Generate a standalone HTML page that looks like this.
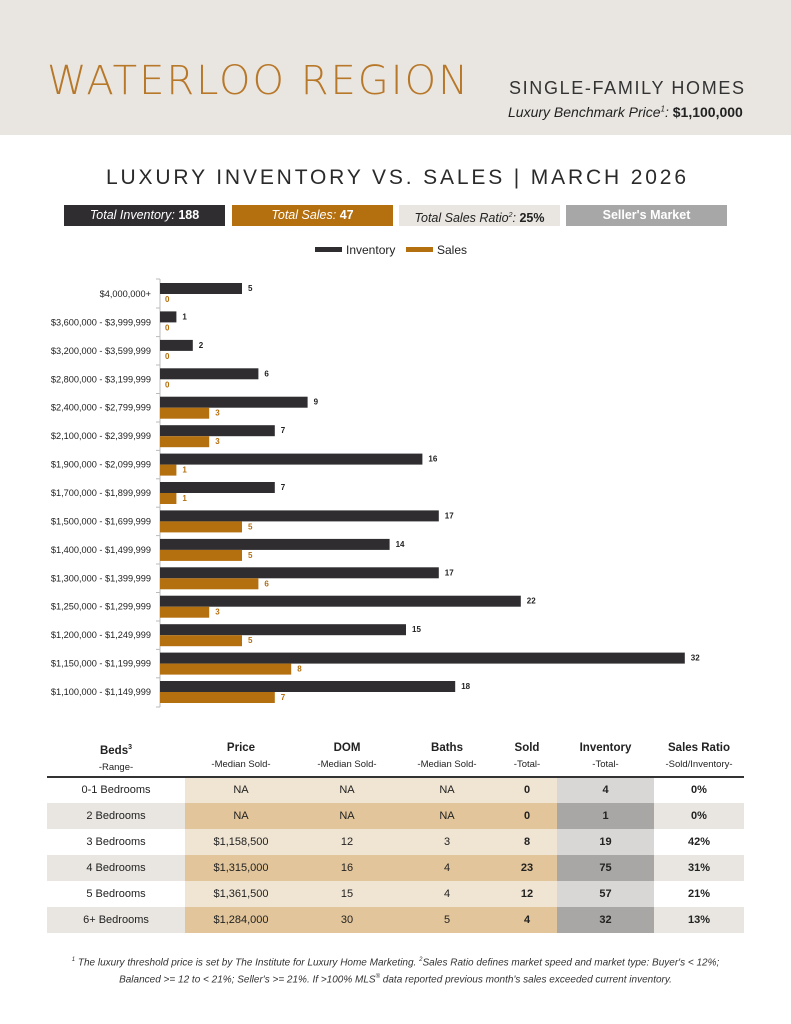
<!DOCTYPE html>
<html><head><meta charset="utf-8"><style>
*{margin:0;padding:0;box-sizing:border-box}
body{width:791px;height:1024px;background:#fff;font-family:"Liberation Sans",sans-serif;position:relative;overflow:hidden;color:#222}
.hdr{position:absolute;left:0;top:0;width:791px;height:135px;background:#e9e6e1}
.abs{position:absolute;white-space:nowrap}
.box{position:absolute;top:205px;height:21px;font-size:12.5px;line-height:21px;text-align:center}
table{position:absolute;left:47px;top:740px;width:697px;border-collapse:collapse;font-size:11px}
td{text-align:center;height:26px;padding:0}
th{font-size:11.5px;font-weight:bold;height:34px;vertical-align:top;line-height:16px}
th span{font-weight:normal;font-size:9.5px}
</style></head><body>
<div class="hdr"></div>
<svg class="abs" style="left:0;top:0" width="791" height="200" font-family="Liberation Sans,sans-serif">
<text x="47" y="94" font-size="40" fill="#b8782a" textLength="421" lengthAdjust="spacing" font-family="DejaVu Sans ExtraLight, DejaVu Sans, sans-serif" font-weight="200">WATERLOO REGION</text>
<text x="509" y="94" font-size="18" fill="#333" textLength="235" lengthAdjust="spacing">SINGLE-FAMILY HOMES</text>
<text x="106" y="184" font-size="21" fill="#2a2a2a" textLength="580" lengthAdjust="spacing">LUXURY INVENTORY VS. SALES | MARCH 2026</text>
</svg>
<div class="abs" style="left:508px;top:104px;font-size:14px;color:#222"><i>Luxury Benchmark Price<sup style="font-size:8px">1</sup>:</i> <b>$1,100,000</b></div>
<div class="box" style="left:64px;width:161px;background:#2f2d30;color:#fff"><i>Total Inventory:</i> <b>188</b></div>
<div class="box" style="left:232px;width:161px;background:#b46f0e;color:#fff"><i>Total Sales:</i> <b>47</b></div>
<div class="box" style="left:399px;width:161px;background:#e9e6e1;color:#222"><i>Total Sales Ratio<sup style="font-size:7px">2</sup>:</i> <b>25%</b></div>
<div class="box" style="left:566px;width:161px;background:#a8a7a8;color:#fff"><b>Seller's Market</b></div>
<svg class="abs" style="left:0;top:0" width="791" height="730" font-family="Liberation Sans,sans-serif">
<rect x="315" y="247" width="27" height="5" fill="#2f2d30"/><text x="346" y="254" font-size="12" fill="#222">Inventory</text>
<rect x="406" y="247" width="27" height="5" fill="#b46f0e"/><text x="437" y="254" font-size="12" fill="#222">Sales</text>
<line x1="160" y1="279" x2="160" y2="707" stroke="#bbb"/>
<g stroke="#bbb"><line x1="156" y1="279" x2="160" y2="279"/><line x1="156" y1="308" x2="160" y2="308"/><line x1="156" y1="336.6" x2="160" y2="336.6"/><line x1="156" y1="365" x2="160" y2="365"/><line x1="156" y1="393.5" x2="160" y2="393.5"/><line x1="156" y1="422" x2="160" y2="422"/><line x1="156" y1="450.4" x2="160" y2="450.4"/><line x1="156" y1="478.8" x2="160" y2="478.8"/><line x1="156" y1="507.2" x2="160" y2="507.2"/><line x1="156" y1="535.6" x2="160" y2="535.6"/><line x1="156" y1="564" x2="160" y2="564"/><line x1="156" y1="592.5" x2="160" y2="592.5"/><line x1="156" y1="621" x2="160" y2="621"/><line x1="156" y1="649.4" x2="160" y2="649.4"/><line x1="156" y1="677.8" x2="160" y2="677.8"/><line x1="156" y1="707" x2="160" y2="707"/></g>
<g font-size="9.2" fill="#222" text-anchor="end">
<text x="151" y="297">$4,000,000+</text>
<text x="151" y="325.4">$3,600,000 - $3,999,999</text>
<text x="151" y="353.9">$3,200,000 - $3,599,999</text>
<text x="151" y="382.3">$2,800,000 - $3,199,999</text>
<text x="151" y="410.7">$2,400,000 - $2,799,999</text>
<text x="151" y="439.2">$2,100,000 - $2,399,999</text>
<text x="151" y="467.6">$1,900,000 - $2,099,999</text>
<text x="151" y="496">$1,700,000 - $1,899,999</text>
<text x="151" y="524.4">$1,500,000 - $1,699,999</text>
<text x="151" y="552.9">$1,400,000 - $1,499,999</text>
<text x="151" y="581.3">$1,300,000 - $1,399,999</text>
<text x="151" y="609.7">$1,250,000 - $1,299,999</text>
<text x="151" y="638.2">$1,200,000 - $1,249,999</text>
<text x="151" y="666.6">$1,150,000 - $1,199,999</text>
<text x="151" y="695">$1,100,000 - $1,149,999</text>
</g>
<g fill="#2f2d30">
<rect x="160" y="283" width="82" height="11"/>
<rect x="160" y="311.4" width="16.4" height="11"/>
<rect x="160" y="339.9" width="32.8" height="11"/>
<rect x="160" y="368.3" width="98.4" height="11"/>
<rect x="160" y="396.7" width="147.6" height="11"/>
<rect x="160" y="425.2" width="114.8" height="11"/>
<rect x="160" y="453.6" width="262.4" height="11"/>
<rect x="160" y="482" width="114.8" height="11"/>
<rect x="160" y="510.4" width="278.8" height="11"/>
<rect x="160" y="538.9" width="229.6" height="11"/>
<rect x="160" y="567.3" width="278.8" height="11"/>
<rect x="160" y="595.7" width="360.8" height="11"/>
<rect x="160" y="624.2" width="246" height="11"/>
<rect x="160" y="652.6" width="524.8" height="11"/>
<rect x="160" y="681" width="295.2" height="11"/>
</g>
<g fill="#b46f0e">
<rect x="160" y="407.7" width="49.2" height="11"/>
<rect x="160" y="436.2" width="49.2" height="11"/>
<rect x="160" y="464.6" width="16.4" height="11"/>
<rect x="160" y="493" width="16.4" height="11"/>
<rect x="160" y="521.4" width="82" height="11"/>
<rect x="160" y="549.9" width="82" height="11"/>
<rect x="160" y="578.3" width="98.4" height="11"/>
<rect x="160" y="606.7" width="49.2" height="11"/>
<rect x="160" y="635.2" width="82" height="11"/>
<rect x="160" y="663.6" width="131.2" height="11"/>
<rect x="160" y="692" width="114.8" height="11"/>
</g>
<g font-size="8" font-weight="bold" fill="#222">
<text x="248" y="291">5</text><text x="182.4" y="319.4">1</text><text x="198.8" y="347.9">2</text><text x="264.4" y="376.3">6</text><text x="313.6" y="404.7">9</text><text x="280.8" y="433.2">7</text><text x="428.4" y="461.6">16</text><text x="280.8" y="490">7</text><text x="444.8" y="518.4">17</text><text x="395.6" y="546.9">14</text><text x="444.8" y="575.3">17</text><text x="526.8" y="603.7">22</text><text x="412" y="632.2">15</text><text x="690.8" y="660.6">32</text><text x="461.2" y="689">18</text>
</g>
<g font-size="8" font-weight="bold" fill="#b46f0e">
<text x="165" y="302">0</text><text x="165" y="330.4">0</text><text x="165" y="358.9">0</text><text x="165" y="387.3">0</text><text x="215.2" y="415.7">3</text><text x="215.2" y="444.2">3</text><text x="182.4" y="472.6">1</text><text x="182.4" y="501">1</text><text x="248" y="529.4">5</text><text x="248" y="557.9">5</text><text x="264.4" y="586.3">6</text><text x="215.2" y="614.7">3</text><text x="248" y="643.2">5</text><text x="297.2" y="671.6">8</text><text x="280.8" y="700">7</text>
</g>
</svg>
<table>
<tr style="border-bottom:2px solid #333"><th style="width:138px">Beds<sup style="font-size:7px">3</sup><br><span>-Range-</span></th><th style="width:112px">Price<br><span>-Median Sold-</span></th><th style="width:100px">DOM<br><span>-Median Sold-</span></th><th style="width:100px">Baths<br><span>-Median Sold-</span></th><th style="width:60px">Sold<br><span>-Total-</span></th><th style="width:97px">Inventory<br><span>-Total-</span></th><th style="width:90px">Sales Ratio<br><span>-Sold/Inventory-</span></th></tr>
<tr style="background:#f0e4d2"><td style="background:#fff">0-1 Bedrooms</td><td>NA</td><td>NA</td><td>NA</td><td><b>0</b></td><td style="background:#d9d7d6"><b>4</b></td><td style="background:#fff"><b>0%</b></td></tr>
<tr style="background:#e2c59a"><td style="background:#e9e6e1">2 Bedrooms</td><td>NA</td><td>NA</td><td>NA</td><td><b>0</b></td><td style="background:#a9a7a6"><b>1</b></td><td style="background:#e9e6e1"><b>0%</b></td></tr>
<tr style="background:#f0e4d2"><td style="background:#fff">3 Bedrooms</td><td>$1,158,500</td><td>12</td><td>3</td><td><b>8</b></td><td style="background:#d9d7d6"><b>19</b></td><td style="background:#fff"><b>42%</b></td></tr>
<tr style="background:#e2c59a"><td style="background:#e9e6e1">4 Bedrooms</td><td>$1,315,000</td><td>16</td><td>4</td><td><b>23</b></td><td style="background:#a9a7a6"><b>75</b></td><td style="background:#e9e6e1"><b>31%</b></td></tr>
<tr style="background:#f0e4d2"><td style="background:#fff">5 Bedrooms</td><td>$1,361,500</td><td>15</td><td>4</td><td><b>12</b></td><td style="background:#d9d7d6"><b>57</b></td><td style="background:#fff"><b>21%</b></td></tr>
<tr style="background:#e2c59a"><td style="background:#e9e6e1">6+ Bedrooms</td><td>$1,284,000</td><td>30</td><td>5</td><td><b>4</b></td><td style="background:#a9a7a6"><b>32</b></td><td style="background:#e9e6e1"><b>13%</b></td></tr>
</table>
<div class="abs" style="left:0;width:791px;top:953px;text-align:center;font-size:10px;font-style:italic;line-height:15px;color:#333;white-space:normal"><sup style="font-size:6px">1</sup> The luxury threshold price is set by The Institute for Luxury Home Marketing. <sup style="font-size:6px">2</sup>Sales Ratio defines market speed and market type: Buyer's &lt; 12%;<br>Balanced &gt;= 12 to &lt; 21%; Seller's &gt;= 21%. If &gt;100% MLS<sup style="font-size:6px">®</sup> data reported previous month's sales exceeded current inventory.</div>
</body></html>
